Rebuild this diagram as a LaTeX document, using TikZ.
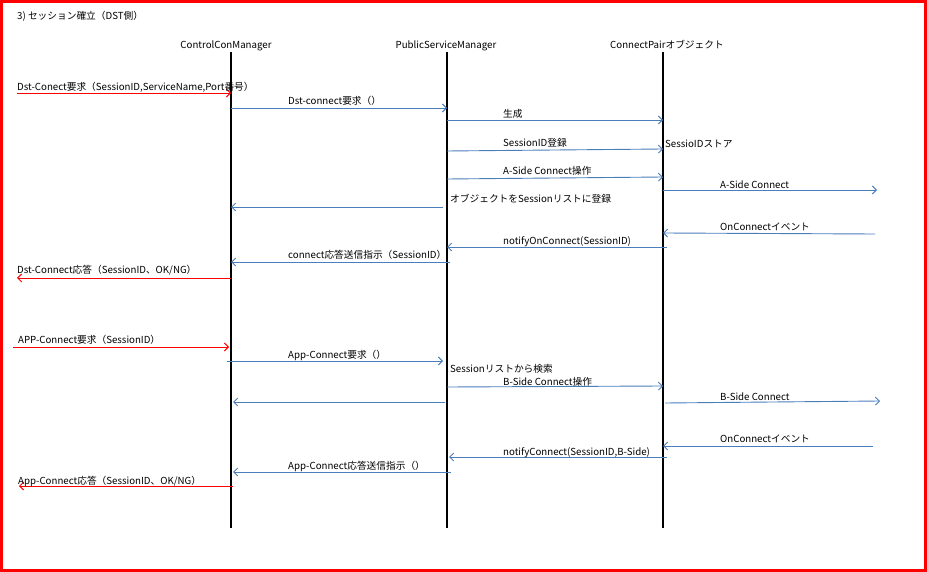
\documentclass[tikz,border=0pt]{standalone}
\usepackage{fontspec}
\setmainfont{Noto Sans CJK JP}
\usetikzlibrary{arrows.meta}
\definecolor{msgblue}{RGB}{74,126,187}
\definecolor{msgred}{RGB}{255,0,0}
\tikzset{
  lbl/.style={anchor=base west,inner sep=0pt,font=\fontsize{9.7}{10}\selectfont},
  hdr/.style={anchor=base,inner sep=0pt,font=\fontsize{9.7}{10}\selectfont},
  lifeline/.style={line width=1.6pt,black},
  bmsg/.style={msgblue,line width=0.9pt,-{Straight Barb[length=4pt,width=8pt]}},
  rmsg/.style={msgred,line width=0.9pt,-{Straight Barb[length=4pt,width=8pt]}}
}
\begin{document}
\begin{tikzpicture}[x=1pt,y=-1pt]
\useasboundingbox (0,0) rectangle (927,572);
\draw[msgred,line width=3pt] (1.5,1.5) rectangle (925.5,570.5);
\node[lbl] (title) at (17,20) {3) セッション確立（DST側）};
% lifelines
\node[hdr] (hccm) at (226,49) {ControlConManager};
\node[hdr] (hpsm) at (446,49) {PublicServiceManager};
\node[hdr] (hcpo) at (667,49) {ConnectPairオブジェクト};
\coordinate (A) at (231,52); \coordinate (Ab) at (231,528);
\coordinate (B) at (447,52); \coordinate (Bb) at (447,528);
\coordinate (C) at (663,52); \coordinate (Cb) at (663,528);
\coordinate (X) at (17,0); \coordinate (Y) at (877,0);
\draw[lifeline] (A) -- (Ab);
\draw[lifeline] (B) -- (Bb);
\draw[lifeline] (C) -- (Cb);
% Dst side
\draw[rmsg] (X |- 0,93) -- (A |- 0,93);
\node[lbl] (m1) at (17,91) {Dst-Conect要求（SessionID,ServiceName,Port番号）};
\draw[bmsg] (A |- 0,108) -- (B |- 0,108);
\node[lbl] (m2) at (288,105) {Dst-connect要求（）};
\draw[bmsg] (B |- 0,120) -- (C |- 0,120);
\node[lbl] (m3) at (503,118) {生成};
\draw[bmsg] (B |- 0,151) -- (C |- 0,149);
\node[lbl] (m4) at (503,147) {SessionID登録};
\node[lbl] (m4b) at (665,148) {SessioIDストア};
\draw[bmsg] (B |- 0,179) -- (C |- 0,177);
\node[lbl] (m5) at (503,175) {A-Side Connect操作};
\draw[bmsg] (C |- 0,190) -- (Y |- 0,190);
\node[lbl] (m6) at (720,189) {A-Side Connect};
\draw[bmsg] (443,207) -- (A |- 0,207);
\node[lbl] (m7) at (450,203) {オブジェクトをSessionリストに登録};
\draw[bmsg] (875,234) -- (C |- 0,233);
\node[lbl] (m8) at (720,231) {OnConnectイベント};
\draw[bmsg] (667,247) -- (B |- 0,247);
\node[lbl] (m9) at (503,245) {notifyOnConnect(SessionID)};
\draw[bmsg] (450,262) -- (A |- 0,262);
\node[lbl] (m10) at (288,259) {connect応答送信指示（SessionID）};
\draw[rmsg] (A |- 0,278) -- (X |- 0,278);
\node[lbl] (m11) at (17,274) {Dst-Connect応答（SessionID、OK/NG）};
% App side
\draw[rmsg] (13,347) -- (229,347);
\node[lbl] (m12) at (18,344) {APP-Connect要求（SessionID）};
\draw[bmsg] (227,361) -- (443,361);
\node[lbl] (m13) at (288,358) {App-Connect要求（）};
\node[lbl] (m14) at (450,372) {Sessionリストから検索};
\draw[bmsg] (B |- 0,387) -- (C |- 0,386);
\node[lbl] (m15) at (503,385) {B-Side Connect操作};
\draw[bmsg] (665,403) -- (880,401);
\node[lbl] (m16) at (720,400) {B-Side Connect};
\draw[bmsg] (445,402) -- (233,402);
\draw[bmsg] (873,446) -- (C |- 0,446);
\node[lbl] (m17) at (720,442) {OnConnectイベント};
\draw[bmsg] (667,457) -- (449,457);
\node[lbl] (m18) at (503,455) {notifyConnect(SessionID,B-Side)};
\draw[bmsg] (451,472) -- (233,472);
\node[lbl] (m19) at (288,469) {App-Connect応答送信指示（）};
\draw[rmsg] (233,486) -- (19,486);
\node[lbl] (m20) at (18,484) {App-Connect応答（SessionID、OK/NG）};
\end{tikzpicture}
\end{document}
